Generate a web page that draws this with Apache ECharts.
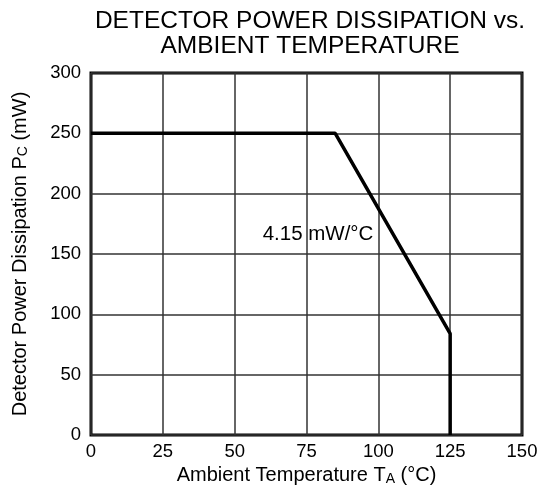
<!DOCTYPE html>
<html><head><meta charset="utf-8">
<script src="https://cdn.jsdelivr.net/npm/echarts@6/dist/echarts.min.js"></script>
<style>html,body{margin:0;padding:0;background:#fff}#c{width:550px;height:500px}</style>
</head><body><div id="c"></div>
<script>
const curveX = [0, 85, 125, 125];
const curveY = [250, 250, 84, 0];
const xTicks = [0, 25, 50, 75, 100, 125, 150];
const yTicks = [0, 50, 100, 150, 200, 250, 300];
const slopeLabel = '4.15 mW/°C';
const slopeLabelPos = [79, 166];

const chart = echarts.init(document.getElementById('c'));
const F = 'Liberation Sans, Arial, sans-serif';
chart.setOption({
  animation: false,
  title: {
    text: 'DETECTOR POWER DISSIPATION vs.\nAMBIENT TEMPERATURE',
    left: 305, top: 4, textAlign: 'center',
    textStyle: {fontFamily: F, fontSize: 24.5, fontWeight: 'normal', color: '#000', lineHeight: 25}
  },
  grid: {left: 91, right: 28, top: 73, bottom: 65, show: true, borderColor: '#000', borderWidth: 3, backgroundColor: 'transparent'},
  xAxis: {
    type: 'value', min: 0, max: 150, interval: 25,
    name: 'Ambient Temperature T{s|A} (°C)', nameLocation: 'middle', nameGap: 27,
    nameTextStyle: {fontFamily: F, fontSize: 20, color: '#000', rich: {s: {fontFamily: F, fontSize: 14, color: '#000', verticalAlign: 'bottom'}}},
    axisLine: {show: false}, axisTick: {show: false},
    axisLabel: {fontFamily: F, fontSize: 18.5, color: '#000', margin: 7, formatter: v => xTicks.includes(v) ? String(v) : ''},
    splitLine: {show: true, lineStyle: {color: '#333', width: 1.5}}
  },
  yAxis: {
    type: 'value', min: 0, max: 300, interval: 50,
    name: 'Detector Power Dissipation P{s|C} (mW)', nameLocation: 'middle', nameGap: 61,
    nameTextStyle: {fontFamily: F, fontSize: 20, color: '#000', rich: {s: {fontFamily: F, fontSize: 14, color: '#000', verticalAlign: 'bottom'}}},
    axisLine: {show: false}, axisTick: {show: false},
    axisLabel: {fontFamily: F, fontSize: 18.5, color: '#000', margin: 10, formatter: v => yTicks.includes(v) ? String(v) : ''},
    splitLine: {show: true, lineStyle: {color: '#333', width: 1.5}}
  },
  series: [
    {type: 'line', data: curveX.map((x, i) => [x, curveY[i]]), symbol: 'none', lineStyle: {color: '#000', width: 3.5}, z: 3},
    {type: 'scatter', data: [slopeLabelPos], symbolSize: 0, silent: true, itemStyle: {color: '#000', opacity: 1},
     label: {show: true, position: 'inside', formatter: slopeLabel, fontFamily: F, fontSize: 20.5, color: '#000', opacity: 1, textBorderWidth: 0}, z: 4}
  ]
});
</script></body></html>
